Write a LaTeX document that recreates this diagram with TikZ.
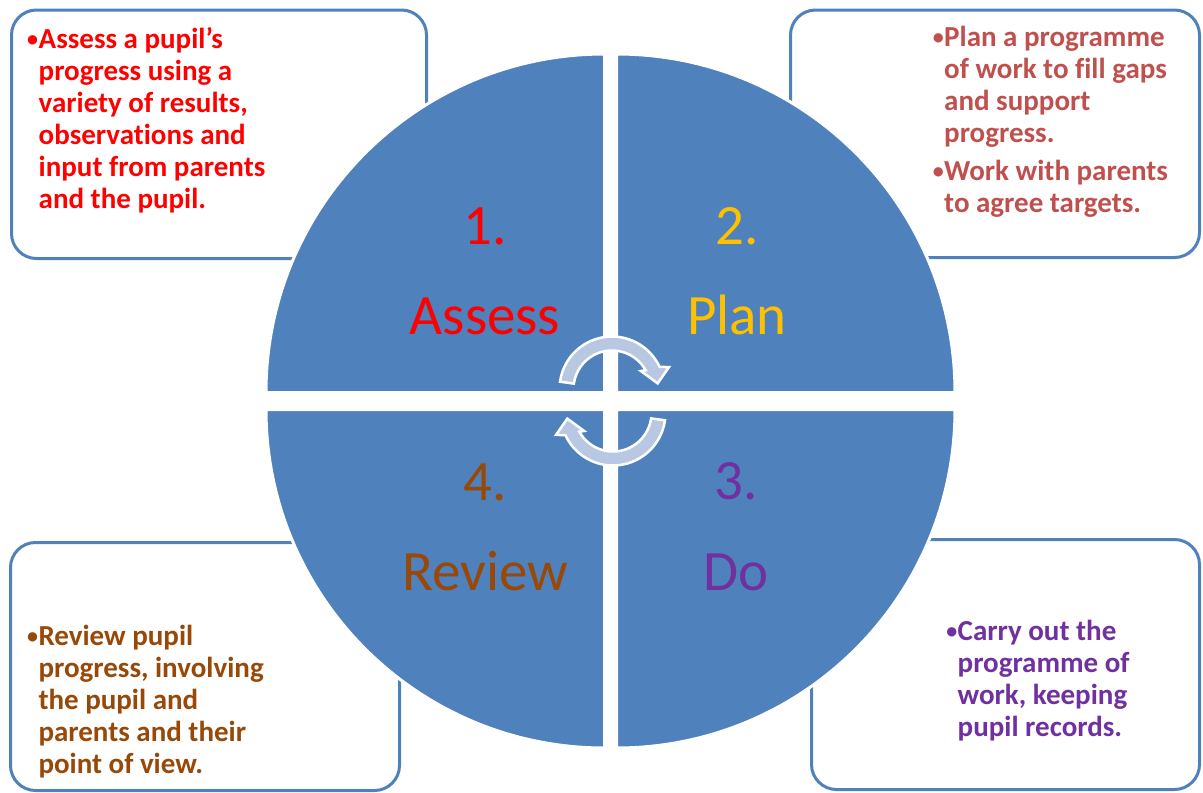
\documentclass[tikz,border=0pt]{standalone}
\usepackage{fontspec}
\setmainfont{Carlito}[Ligatures=NoCommon]
\definecolor{circleblue}{HTML}{4F81BD}
\definecolor{frameblue}{HTML}{4F81BD}
\definecolor{arrowfill}{HTML}{B8C8E3}
\definecolor{assessred}{HTML}{FF0000}
\definecolor{plangold}{HTML}{FFC000}
\definecolor{planrose}{HTML}{C0504D}
\definecolor{dopurple}{HTML}{7030A0}
\definecolor{reviewbrown}{HTML}{984807}
\newcommand{\notebullet}{\llap{\raisebox{2pt}{\fontsize{22}{22}\selectfont\textbullet}\kern0.5pt}}
\tikzset{
  panel/.style={draw=frameblue, line width=3pt, fill=white, rounded corners=25pt},
  quarter/.style={fill=circleblue, draw=white, line width=3pt},
  cyclearrow/.style={fill=arrowfill, draw=white, line width=2.5pt},
  steplabel/.style={font=\fontsize{57}{57}\selectfont, anchor=base, inner sep=0pt},
  notetext/.style={font=\bfseries\fontsize{29}{32}\selectfont, anchor=base west, inner sep=0pt}
}
\begin{document}
\begin{tikzpicture}[x=1pt,y=1pt]
\useasboundingbox (0,0) rectangle (1203,-793);
% note boxes, behind the circle
\draw[panel] (11.5,-10) rectangle (426.5,-258.5);
\draw[panel] (790.5,-10) rectangle (1199.5,-257.5);
\draw[panel] (10.5,-542.5) rectangle (399.5,-790.5);
\draw[panel] (811.5,-539.5) rectangle (1199.5,-789.5);
% the four quarters
\filldraw[quarter] (604.5,-392.5) -- ++(-338.5,0) arc (180:90:338.5) -- cycle;
\filldraw[quarter] (616.5,-392.5) -- ++(0,338.5) arc (90:0:338.5) -- cycle;
\filldraw[quarter] (616.5,-409.5) -- ++(338.5,0) arc (0:-90:338.5) -- cycle;
\filldraw[quarter] (604.5,-409.5) -- ++(0,-338.5) arc (-90:-180:338.5) -- cycle;
% two turning arrows in the middle
\foreach \r in {0,180}
  \filldraw[cyclearrow, rotate around={\r:(612.5,-401)}, shift={(612,-389)}]
    (172:52.5) arc (172:25:52.5) -- (21:61) -- (7:46) -- (32:34) -- (29:38.5)
    arc (29:172:38.5) -- cycle;
% step names
\node[steplabel, text=assessred] (num1) at (485,-244) {1.};
\node[steplabel, text=assessred] (assess) at (485,-334) {Assess};
\node[steplabel, text=plangold] (num2) at (737,-244) {2.};
\node[steplabel, text=plangold] (plan) at (737,-334) {Plan};
\node[steplabel, text=dopurple] (num3) at (736,-499) {3.};
\node[steplabel, text=dopurple] (do) at (736,-590) {Do};
\node[steplabel, text=reviewbrown] (num4) at (485,-500) {4.};
\node[steplabel, text=reviewbrown] (review) at (485,-590) {Review};
% notes
\node[notetext, text=assessred] (assessnote) at (38.5,-48.3) {\begin{tabular}[t]{@{}l@{}}
  \notebullet Assess a pupil’s\\ progress using a\\ variety of results,\\
  observations and\\ input from parents\\ and the pupil.\end{tabular}};
\node[notetext, text=planrose] (plannote) at (944,-46.7) {\begin{tabular}[t]{@{}l@{}}
  \notebullet Plan a programme\\ of work to fill gaps\\ and support\\ progress.\\[5.5pt]
  \notebullet Work with parents\\ to agree targets.\end{tabular}};
\node[notetext, text=dopurple] (donote) at (957.5,-640) {\begin{tabular}[t]{@{}l@{}}
  \notebullet Carry out the\\ programme of\\ work, keeping\\ pupil records.\end{tabular}};
\node[notetext, text=reviewbrown] (reviewnote) at (38.3,-645) {\begin{tabular}[t]{@{}l@{}}
  \notebullet Review pupil\\ progress, involving\\ the pupil and\\
  parents and their\\ point of view.\end{tabular}};
\end{tikzpicture}
\end{document}
